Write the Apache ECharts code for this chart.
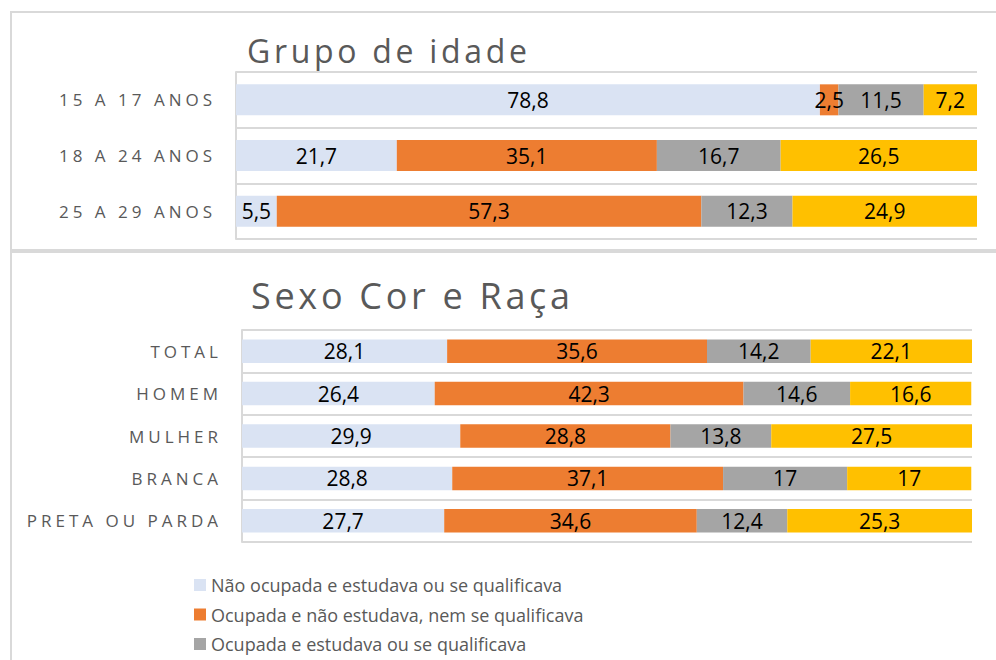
<!DOCTYPE html>
<html><head><meta charset="utf-8">
<script src="https://cdn.jsdelivr.net/npm/echarts@6/dist/echarts.min.js"></script>
<style>
html,body{margin:0;padding:0;background:#fff;}
#chart{width:996px;height:660px;}
#chart text[style*="17px"]{letter-spacing:4px;}
#chart text[style*="32px"]{letter-spacing:3.7px;}
#chart text[style*="36px"]{letter-spacing:3.7px;}
</style></head><body><div id="chart"></div>
<script>
// ---- data ----
const ageCategories = ['15 A 17 ANOS', '18 A 24 ANOS', '25 A 29 ANOS'];
const ageNaoOcupEstuda = [78.8, 21.7, 5.5];
const ageOcupNaoEstuda = [2.5, 35.1, 57.3];
const ageOcupEstuda = [11.5, 16.7, 12.3];
const ageNemNem = [7.2, 26.5, 24.9];

const sexCategories = ['TOTAL', 'HOMEM', 'MULHER', 'BRANCA', 'PRETA OU PARDA'];
const sexNaoOcupEstuda = [28.1, 26.4, 29.9, 28.8, 27.7];
const sexOcupNaoEstuda = [35.6, 42.3, 28.8, 37.1, 34.6];
const sexOcupEstuda = [14.2, 14.6, 13.8, 17, 12.4];
const sexNemNem = [22.1, 16.6, 27.5, 17, 25.3];

const seriesNames = [
  'Não ocupada e estudava ou se qualificava',
  'Ocupada e não estudava, nem se qualificava',
  'Ocupada e estudava ou se qualificava',
  'Não ocupada e não estudava, nem se qualificava'
];
const colors = ['#DAE3F3', '#ED7D31', '#A5A5A5', '#FFC000'];

// ---- chart ----
const chart = echarts.init(document.getElementById('chart'), null, {renderer: 'svg'});
const fmt = p => String(p.value).replace('.', ',');

function mkSeries(data, idx, gi, bw) {
  return {
    type: 'bar', name: seriesNames[idx], stack: 'g' + gi,
    xAxisIndex: gi, yAxisIndex: gi, data: data, barWidth: bw,
    itemStyle: {color: colors[idx]},
    label: {show: true, position: 'inside', color: '#000', fontSize: 21,
            fontFamily: 'Open Sans', formatter: fmt},
    emphasis: {disabled: true}
  };
}
const gridLine = {color: '#d9d9d9', width: 2};
function mkY(cats, gi, margin) {
  return {
    type: 'category', gridIndex: gi, data: cats, inverse: true,
    axisLine: {show: true, lineStyle: gridLine},
    axisTick: {show: false},
    splitLine: {show: true, lineStyle: gridLine},
    axisLabel: {color: '#595959', fontSize: 17, fontFamily: 'Open Sans',
                margin: margin, interval: 0}
  };
}

chart.setOption({
  animation: false,
  textStyle: {fontFamily: 'Open Sans'},
  color: colors,
  graphic: [
    {type: 'rect', silent: true, z: -10, shape: {x: 11, y: 12, width: 1000, height: 238},
     style: {fill: 'none', stroke: '#d9d9d9', lineWidth: 2}},
    {type: 'rect', silent: true, z: -10, shape: {x: 11, y: 252, width: 1000, height: 500},
     style: {fill: 'none', stroke: '#d9d9d9', lineWidth: 2}}
  ],
  title: [
    {text: 'Grupo de idade', left: 247, top: 34, padding: 0,
     textStyle: {fontSize: 32, fontWeight: 'normal', color: '#595959', fontFamily: 'Open Sans'}},
    {text: 'Sexo Cor e Raça', left: 251, top: 277, padding: 0,
     textStyle: {fontSize: 36, fontWeight: 'normal', color: '#595959', fontFamily: 'Open Sans'}}
  ],
  legend: {
    orient: 'vertical', left: 194, top: 576, padding: 0, itemWidth: 12, itemHeight: 12,
    itemGap: 11.5, icon: 'rect',
    textStyle: {color: '#595959', fontSize: 18, fontFamily: 'Open Sans'},
    data: seriesNames.slice(0, 3)
  },
  grid: [
    {left: 236, top: 72, width: 741, height: 167},
    {left: 242, top: 330, width: 730, height: 212}
  ],
  xAxis: [
    {type: 'value', gridIndex: 0, min: 0, max: 100, show: false},
    {type: 'value', gridIndex: 1, min: 0, max: 100, show: false}
  ],
  yAxis: [mkY(ageCategories, 0, 20), mkY(sexCategories, 1, 20)],
  series: [
    mkSeries(ageNaoOcupEstuda, 0, 0, 31),
    mkSeries(ageOcupNaoEstuda, 1, 0, 31),
    mkSeries(ageOcupEstuda, 2, 0, 31),
    mkSeries(ageNemNem, 3, 0, 31),
    mkSeries(sexNaoOcupEstuda, 0, 1, 23.5),
    mkSeries(sexOcupNaoEstuda, 1, 1, 23.5),
    mkSeries(sexOcupEstuda, 2, 1, 23.5),
    mkSeries(sexNemNem, 3, 1, 23.5)
  ]
});
</script></body></html>
